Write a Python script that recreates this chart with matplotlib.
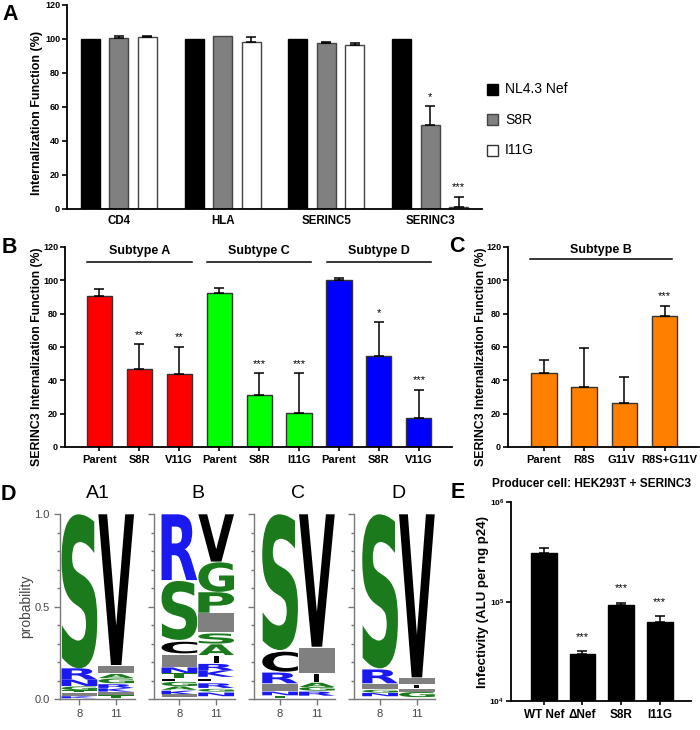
import matplotlib
matplotlib.use('Agg')
import matplotlib.pyplot as plt
import matplotlib.transforms as mtransforms
from matplotlib.textpath import TextPath
from matplotlib.patches import PathPatch, Rectangle
from matplotlib.font_manager import FontProperties
from matplotlib.ticker import NullLocator, MultipleLocator
import numpy as np

plt.rcParams['font.family'] = ['Liberation Sans', 'DejaVu Sans']
plt.rcParams['font.weight'] = 'bold'
plt.rcParams['axes.labelweight'] = 'bold'
plt.rcParams['axes.titleweight'] = 'bold'
plt.rcParams['mathtext.fontset'] = 'custom'
plt.rcParams['mathtext.rm'] = 'Liberation Sans'
plt.rcParams['mathtext.bf'] = 'Liberation Sans:bold'

# ---- panel A data
a_targets = ['CD4', 'HLA', 'SERINC5', 'SERINC3']
a_series = ['NL4.3 Nef', 'S8R', 'I11G']
a_nl43 = [100, 100, 100, 100]
a_nl43_err = [0, 0, 0, 0]
a_s8r = [100.6, 101.5, 97.4, 49.2]
a_s8r_err = [1.2, 0, 0.8, 11.4]
a_i11g = [101.0, 98.5, 96.7, 1.0]
a_i11g_err = [0.8, 2.8, 0.7, 6.2]
a_s8r_stars = ['', '', '', '*']
a_i11g_stars = ['', '', '', '***']

# ---- panel B data
b_labels = ['Parent', 'S8R', 'V11G', 'Parent', 'S8R', 'I11G', 'Parent', 'S8R', 'V11G']
b_values = [90.4, 46.7, 43.9, 92.6, 31.0, 20.2, 100.4, 54.5, 17.5]
b_err = [4.4, 15.0, 16.4, 2.8, 13.3, 24.1, 1.2, 20.5, 17.0]
b_stars = ['', '**', '**', '', '***', '***', '', '*', '***']
b_subtypes = ['Subtype A', 'Subtype C', 'Subtype D']
b_colors = ['#ff0000', '#00ff00', '#0000ff']

# ---- panel C data
c_labels = ['Parent', 'R8S', 'G11V', 'R8S+G11V']
c_values = [44.6, 36.0, 26.2, 78.6]
c_err = [7.4, 23.6, 16.0, 6.2]
c_stars = ['', '', '', '***']
c_subtype = 'Subtype B'

# ---- panel D data (letter, bottom, top) per position
logo_titles = ['A1', 'B', 'C', 'D']
a1_pos8 = [('S', 0.166, 1.0), ('R', 0.105, 0.166), ('N', 0.07, 0.105), ('G', 0.048, 0.068),
           ('T', 0.037, 0.048), ('-', 0.015, 0.035), ('K', 0.004, 0.015)]
a1_pos11 = [('V', 0.184, 1.0), ('-', 0.139, 0.18), ('A', 0.113, 0.135), ('G', 0.085, 0.111),
            ('R', 0.06, 0.08), ('K', 0.04, 0.058), ('-', 0.02, 0.04), ('T', 0.006, 0.02)]
b_pos8 = [('R', 0.644, 1.0), ('S', 0.32, 0.639), ('C', 0.247, 0.31), ('-', 0.175, 0.238),
          ('N', 0.139, 0.171), ('T', 0.112, 0.139), ('L', 0.095, 0.11), ('G', 0.07, 0.093),
          ('A', 0.05, 0.068), ('K', 0.025, 0.045), ('-', 0.01, 0.025)]
b_pos11 = [('V', 0.744, 1.0), ('G', 0.58, 0.74), ('P', 0.467, 0.578), ('-', 0.365, 0.464),
           ('S', 0.30, 0.355), ('A', 0.238, 0.296), ('I', 0.197, 0.233), ('R', 0.155, 0.19),
           ('K', 0.12, 0.155), ('L', 0.095, 0.11), ('R', 0.06, 0.085), ('G', 0.04, 0.055),
           ('N', 0.015, 0.035)]
c_pos8 = [('S', 0.265, 1.0), ('C', 0.148, 0.256), ('R', 0.085, 0.143), ('-', 0.045, 0.081),
          ('N', 0.02, 0.04), ('T', 0.005, 0.018)]
c_pos11 = [('V', 0.283, 1.0), ('-', 0.139, 0.278), ('I', 0.094, 0.135), ('A', 0.065, 0.088),
           ('G', 0.045, 0.065), ('R', 0.018, 0.04)]
d_pos8 = [('S', 0.166, 1.0), ('R', 0.085, 0.16), ('-', 0.052, 0.081), ('G', 0.035, 0.05),
          ('N', 0.015, 0.033)]
d_pos11 = [('V', 0.117, 1.0), ('-', 0.081, 0.112), ('I', 0.06, 0.075), ('-', 0.04, 0.055),
           ('G', 0.01, 0.038)]
logo_positions = ['8', '11']

# ---- panel E data
e_labels = ['WT Nef', '\u0394Nef', 'S8R', 'I11G']
e_values = [3.1e5, 2.94e4, 9.15e4, 6.2e4]
e_err = [0.33e5, 0.23e4, 0.55e4, 0.95e4]
e_stars = ['', '***', '***', '***']

W, H = 700, 730
fig = plt.figure(figsize=(7, 7.3), dpi=100)


def box(x0, y0, x1, y1):
    return [x0 / W, 1 - y1 / H, (x1 - x0) / W, (y1 - y0) / H]


def prism(ax, xsize=8, ysize=6.5, xlen=3):
    for s in ['top', 'right']:
        ax.spines[s].set_visible(False)
    for s in ['left', 'bottom']:
        ax.spines[s].set_linewidth(1.3)
    ax.tick_params(width=1.2, length=3.5, pad=1.5)
    ax.tick_params(axis='y', labelsize=ysize)
    ax.tick_params(axis='x', labelsize=xsize, length=xlen, pad=2.5)
    for lab in ax.get_xticklabels() + ax.get_yticklabels():
        lab.set_fontweight('bold')


def upper_err(ax, x, y, e):
    for xi, yi, ei in zip(x, y, e):
        if ei > 0:
            ax.errorbar(xi, yi, yerr=[[0], [ei]], fmt='none', ecolor='black',
                        elinewidth=1.1, capsize=3.5, capthick=1.1)


def stars(ax, x, y, e, s, off, size=8):
    for xi, yi, ei, si in zip(x, y, e, s):
        if si:
            ax.text(xi, (yi + ei) + off, si, ha='center', va='center', fontsize=size,
                    fontweight='normal')


# ================= A
axA = fig.add_axes(box(67, 5, 482, 209))
xa = np.arange(len(a_targets))
off, bw = 0.274, 0.183
axA.bar(xa - off, a_nl43, bw, color='black', edgecolor='black', lw=1)
axA.bar(xa, a_s8r, bw, color='#808080', edgecolor='#444444', lw=1)
axA.bar(xa + off, a_i11g, bw, color='white', edgecolor='#444444', lw=1)
upper_err(axA, xa, a_s8r, a_s8r_err)
upper_err(axA, xa + off, a_i11g, a_i11g_err)
stars(axA, xa, a_s8r, a_s8r_err, a_s8r_stars, 5.5)
stars(axA, xa + off, a_i11g, a_i11g_err, a_i11g_stars, 5.5)
axA.set_xlim(-0.5, 3.5)
axA.set_ylim(0, 120)
axA.set_yticks(range(0, 121, 20))
axA.set_xticks(xa)
axA.set_xticklabels(a_targets)
prism(axA, xsize=8.3, xlen=0)
axA.tick_params(axis='x', pad=4)
axA.set_ylabel('Internalization Function (%)', fontsize=9)
axA.yaxis.set_label_coords(-0.058, 0.47)

# ================= B
axB = fig.add_axes(box(65, 247, 452, 447))
xb = np.arange(len(b_labels))
b_bar_colors = [b_colors[i // 3] for i in range(len(b_labels))]
axB.bar(xb, b_values, 0.63, color=b_bar_colors, edgecolor='#333333', lw=1)
upper_err(axB, xb, b_values, b_err)
stars(axB, xb, b_values, b_err, b_stars, 5.5)
for g, name in enumerate(b_subtypes):
    axB.plot([3 * g - 0.31, 3 * g + 2.31], [111, 111], color='black', lw=1.1, clip_on=False)
    axB.text(3 * g + 1, 117.5, name, ha='center', va='center', fontsize=9)
axB.set_xlim(-0.86, 8.83)
axB.set_ylim(0, 120)
axB.set_yticks(range(0, 121, 20))
axB.set_xticks(xb)
axB.set_xticklabels(b_labels)
prism(axB)
axB.set_ylabel('SERINC3 Internalization Function (%)', fontsize=8.8)
axB.yaxis.set_label_coords(-0.057, 0.45)

# ================= C
axC = fig.add_axes(box(508, 247, 699, 447))
xc = np.arange(len(c_labels))
axC.bar(xc, c_values, 0.63, color='#ff8000', edgecolor='#333333', lw=1)
upper_err(axC, xc, c_values, c_err)
stars(axC, xc, c_values, c_err, c_stars, 5.5)
axC.plot([-0.35, 3.17], [112.6, 112.6], color='black', lw=1.1, clip_on=False)
axC.text(1.41, 118.3, c_subtype, ha='center', va='center', fontsize=9)
axC.set_xlim(-0.89, 3.85)
axC.set_ylim(0, 120)
axC.set_yticks(range(0, 121, 20))
axC.set_xticks(xc)
axC.set_xticklabels(c_labels)
prism(axC)
# nudge the long last label right, as in the reference
last = axC.get_xticklabels()[-1]
last.set_transform(last.get_transform() +
                   mtransforms.ScaledTranslation(0.05, 0, fig.dpi_scale_trans))
first3 = axC.get_xticklabels()[2]
first3.set_transform(first3.get_transform() +
                     mtransforms.ScaledTranslation(-0.03, 0, fig.dpi_scale_trans))
axC.set_ylabel('SERINC3 Internalization Function (%)', fontsize=8.8)
axC.yaxis.set_label_coords(-0.11, 0.45)

# ================= D (sequence logos)
logo_fp = FontProperties(family='DejaVu Sans', weight='bold')
green, blue, gray = '#1b7a1b', '#1a1af0', '#808080'
letter_colors = {'S': green, 'G': green, 'P': green, 'A': green, 'T': green,
                 'R': blue, 'K': blue, 'N': blue,
                 'V': 'black', 'I': 'black', 'C': 'black', 'L': 'black'}


def draw_letter(ax, ch, xc, y0, y1, width=0.97):
    if ch == '-':
        ax.add_patch(Rectangle((xc - width / 2, y0), width, y1 - y0, fc=gray, ec='none'))
        return
    w = 0.14 if ch == 'I' else width
    tp = TextPath((0, 0), ch, size=1, prop=logo_fp)
    bb = tp.get_extents()
    t = (mtransforms.Affine2D().translate(-bb.x0, -bb.y0)
         .scale(w / bb.width, (y1 - y0) / bb.height).translate(xc - w / 2, y0))
    ax.add_patch(PathPatch(t.transform_path(tp), fc=letter_colors[ch], ec='none'))


logo_cols = [(a1_pos8, a1_pos11), (b_pos8, b_pos11), (c_pos8, c_pos11), (d_pos8, d_pos11)]
logo_left = [60, 154, 254, 354]
logo_start = [61, 161, 261.7, 361.7]
for k, (title, cols) in enumerate(zip(logo_titles, logo_cols)):
    x0 = logo_left[k]
    x1 = logo_start[k] + 2 * 36.8
    ax = fig.add_axes(box(x0, 514.3, x1, 699))
    for i, col in enumerate(cols):
        for ch, lo, hi in col:
            draw_letter(ax, ch, i, lo, hi)
    ax.set_xlim(-0.5 - (logo_start[k] - x0) / 36.8, 1.5)
    ax.set_ylim(0, 1.0)
    for s in ['top', 'right']:
        ax.spines[s].set_visible(False)
    for s in ['left', 'bottom']:
        ax.spines[s].set_color('#777777')
        ax.spines[s].set_linewidth(1.0)
    ax.set_yticks([0, 0.5, 1.0])
    ax.yaxis.set_minor_locator(MultipleLocator(0.1))
    ax.set_xticks([0, 1])
    ax.set_xticklabels(logo_positions)
    ax.tick_params(colors='#777777', labelcolor='#444444', labelsize=8, length=4, width=1)
    ax.tick_params(axis='y', which='minor', colors='#777777', length=2.5, width=1)
    for lab in ax.get_xticklabels() + ax.get_yticklabels():
        lab.set_fontweight('normal')
    if k == 0:
        ax.set_yticklabels(['0.0', '0.5', '1.0'], fontweight='normal')
        ax.set_ylabel('probability', fontsize=10, fontweight='normal', color='#444444')
        ax.yaxis.set_label_coords(-0.36, 0.5)
    else:
        ax.set_yticklabels([])
    ax.text(0.5, 1.086, title, transform=ax.get_xaxis_transform(), ha='center',
            va='baseline', fontsize=14, fontweight='normal')

# ================= E
axE = fig.add_axes(box(511, 502.3, 691, 701))
xe = np.arange(len(e_labels))
axE.set_yscale('log')
axE.bar(xe, e_values, 0.67, color='black', edgecolor='black', lw=1)
upper_err(axE, xe, e_values, e_err)
for xi, yi, ei, si in zip(xe, e_values, e_err, e_stars):
    if si:
        axE.text(xi, (yi + ei) * 10 ** 0.145, si, ha='center', va='center', fontsize=8,
                 fontweight='normal')
axE.set_xlim(-0.85, 3.81)
axE.set_ylim(1e4, 1e6)
axE.set_yticks([1e4, 1e5, 1e6])
axE.set_yticklabels([r'$\mathbf{10^{4}}$', r'$\mathbf{10^{5}}$', r'$\mathbf{10^{6}}$'])
axE.yaxis.set_minor_locator(NullLocator())
axE.set_xticks(xe)
axE.set_xticklabels(e_labels)
prism(axE, xsize=8.5, ysize=6)
axE.set_ylabel('Infectivity (ALU per ng p24)', fontsize=9.5)
axE.yaxis.set_label_coords(-0.122, 0.5)
axE.set_title('Producer cell: HEK293T + SERINC3', fontsize=8.6, pad=11, x=0.45)

# ================= overlay: panel letters and legend
ov = fig.add_axes([0, 0, 1, 1])
ov.set_xlim(0, W)
ov.set_ylim(H, 0)
ov.axis('off')
ov.patch.set_alpha(0)
for letter, px, py in [('A', 2, 20), ('B', 2, 253), ('C', 449, 251.5), ('D', 1, 500), ('E', 451, 498)]:
    ov.text(px, py, letter, fontsize=15.5, fontweight='bold', va='baseline', ha='left')

leg_colors = ['black', '#808080', 'white']
leg_edges = ['black', '#444444', '#333333']
for name, fc, ec, py in zip(a_series, leg_colors, leg_edges, [89, 119.7, 150.5]):
    ov.add_patch(Rectangle((487, py - 5.5), 11, 11, fc=fc, ec=ec, lw=1))
    ov.text(505, py, name, fontsize=10, fontweight='normal', va='center', ha='left')

fig.savefig('out.png', dpi=100)
